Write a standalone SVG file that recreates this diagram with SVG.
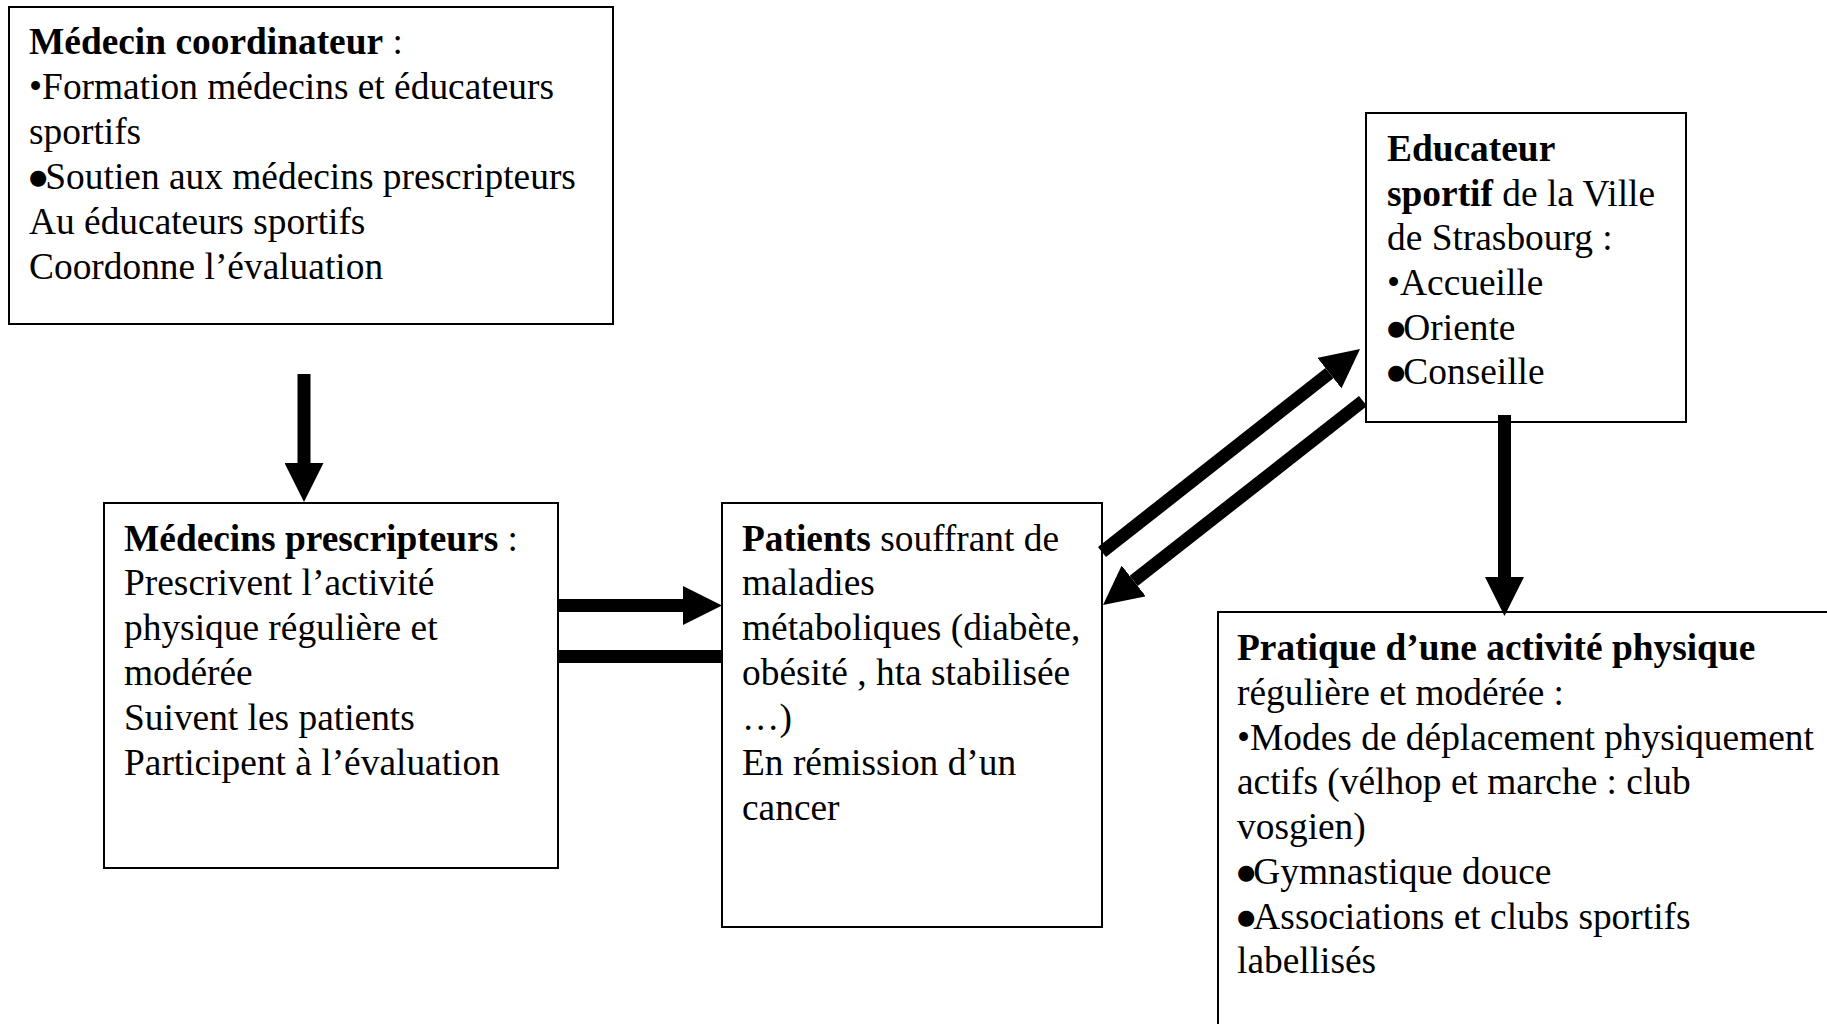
<svg xmlns="http://www.w3.org/2000/svg" width="1827" height="1024" viewBox="0 0 1827 1024">
<style>
  .box { fill: #ffffff; stroke: #000000; stroke-width: 2; }
  .t { font-family: "Liberation Serif", "Times New Roman", serif; font-size: 37.4px; fill: #000000; }
  .b { font-weight: bold; }
  .big { font-family: "DejaVu Sans", sans-serif; font-size: 21px; letter-spacing: -2px; }
  .conn { stroke: #000000; stroke-width: 13; fill: none; stroke-linecap: butt; }
</style>
<defs>
  <marker id="head" markerUnits="strokeWidth" markerWidth="3" markerHeight="3" viewBox="0 0 3 3" refX="0" refY="1.5" orient="auto">
    <path d="M0,0 L3,1.5 L0,3 z" fill="#000000"/>
  </marker>
</defs>
<rect width="1827" height="1024" fill="#ffffff"/>

<g id="medecin-coordinateur">
  <rect class="box" x="9" y="7" width="604" height="317"/>
  <text class="t" x="29" y="53.5"><tspan class="b">Médecin coordinateur</tspan> :</text>
  <text class="t" x="29" y="98.5">•Formation médecins et éducateurs</text>
  <text class="t" x="29" y="143.5">sportifs</text>
  <text class="t" x="29" y="188.5"><tspan class="big" dy="-5">●</tspan><tspan dy="5">Soutien aux médecins prescripteurs</tspan></text>
  <text class="t" x="29" y="233.5">Au éducateurs sportifs</text>
  <text class="t" x="29" y="278.5">Coordonne l’évaluation</text>
</g>

<g id="medecins-prescripteurs">
  <rect class="box" x="104" y="503" width="454" height="365"/>
  <text class="t" x="124" y="550.5"><tspan class="b">Médecins prescripteurs</tspan> :</text>
  <text class="t" x="124" y="594.5">Prescrivent l’activité</text>
  <text class="t" x="124" y="639.5">physique régulière et</text>
  <text class="t" x="124" y="684.5">modérée</text>
  <text class="t" x="124" y="729.5">Suivent les patients</text>
  <text class="t" x="124" y="774.5">Participent à l’évaluation</text>
</g>

<g id="patients">
  <rect class="box" x="722" y="503" width="380" height="424"/>
  <text class="t" x="742" y="550.5"><tspan class="b">Patients</tspan> souffrant de</text>
  <text class="t" x="742" y="594.5">maladies</text>
  <text class="t" x="742" y="639.5">métaboliques (diabète,</text>
  <text class="t" x="742" y="684.5">obésité , hta stabilisée</text>
  <text class="t" x="742" y="729.5">…)</text>
  <text class="t" x="742" y="774.5">En rémission d’un</text>
  <text class="t" x="742" y="819.5">cancer</text>
</g>

<g id="educateur-sportif">
  <rect class="box" x="1366" y="113" width="320" height="309"/>
  <text class="t" x="1387" y="160.5"><tspan class="b">Educateur</tspan></text>
  <text class="t" x="1387" y="205.5"><tspan class="b">sportif</tspan> de la Ville</text>
  <text class="t" x="1387" y="249.5">de Strasbourg :</text>
  <text class="t" x="1387" y="294.5">•Accueille</text>
  <text class="t" x="1387" y="339.5"><tspan class="big" dy="-5">●</tspan><tspan dy="5">Oriente</tspan></text>
  <text class="t" x="1387" y="383.5"><tspan class="big" dy="-5">●</tspan><tspan dy="5">Conseille</tspan></text>
</g>

<g id="pratique-activite">
  <rect class="box" x="1218" y="612" width="700" height="500"/>
  <text class="t" x="1237" y="659.5"><tspan class="b">Pratique d’une activité physique</tspan></text>
  <text class="t" x="1237" y="704.5">régulière et modérée :</text>
  <text class="t" x="1237" y="749.5">•Modes de déplacement physiquement</text>
  <text class="t" x="1237" y="793.5">actifs (vélhop et marche : club</text>
  <text class="t" x="1237" y="838.5">vosgien)</text>
  <text class="t" x="1237" y="883.5"><tspan class="big" dy="-5">●</tspan><tspan dy="5">Gymnastique douce</tspan></text>
  <text class="t" x="1237" y="928.5"><tspan class="big" dy="-5">●</tspan><tspan dy="5">Associations et clubs sportifs</tspan></text>
  <text class="t" x="1237" y="972.5">labellisés</text>
</g>

<g id="connectors">
  <line class="conn" x1="304" y1="374" x2="304" y2="463" marker-end="url(#head)"/>
  <line class="conn" x1="557" y1="605.5" x2="683" y2="605.5" marker-end="url(#head)"/>
  <line class="conn" x1="557" y1="656.5" x2="722" y2="656.5"/>
  <line class="conn" x1="1102" y1="552" x2="1329.4" y2="373.1" marker-end="url(#head)"/>
  <line class="conn" x1="1363" y1="401" x2="1133.7" y2="580.9" marker-end="url(#head)"/>
  <line class="conn" x1="1504.5" y1="415" x2="1504.5" y2="577" marker-end="url(#head)"/>
</g>
</svg>
